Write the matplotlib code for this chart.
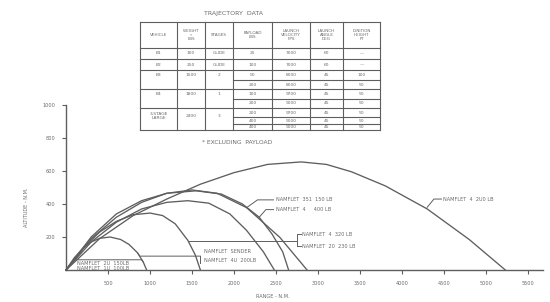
import matplotlib
matplotlib.use("Agg")
import matplotlib.pyplot as plt

# ---------------- data ----------------
x_ticks = [500, 1000, 1500, 2000, 2500, 3000, 3500, 4000, 4500, 5000, 5500]
y_ticks = [200, 400, 600, 800, 1000]

# trajectories: (range n.m., altitude n.m.)
c1_range = [0, 100, 200, 300, 400, 525, 650, 750, 850, 920, 960]
c1_alt = [0, 75, 130, 170, 192, 200, 185, 155, 105, 48, 0]
c2_range = [0, 200, 400, 600, 800, 1000, 1150, 1300, 1450, 1540, 1600]
c2_alt = [0, 130, 230, 295, 335, 345, 330, 280, 180, 90, 0]
c3_range = [0, 300, 600, 900, 1200, 1450, 1700, 1950, 2150, 2350, 2480]
c3_alt = [0, 170, 290, 370, 410, 420, 405, 340, 240, 110, 0]
c4_range = [0, 300, 600, 900, 1200, 1550, 1850, 2100, 2300, 2450, 2580, 2650]
c4_alt = [0, 200, 340, 420, 465, 480, 460, 400, 320, 220, 110, 0]
c5_range = [0, 300, 600, 900, 1200, 1500, 1800, 2150, 2545, 2870]
c5_alt = [0, 190, 320, 410, 465, 485, 465, 378, 198, 0]
c6_range = [0, 400, 800, 1200, 1600, 2000, 2400, 2800, 3100, 3400, 3800, 4300, 4800, 5230]
c6_alt = [0, 190, 330, 430, 520, 590, 640, 655, 640, 595, 510, 370, 185, 0]

# table
tbl_title = "TRAJECTORY  DATA"
tbl_headers = ["VEHICLE", "WEIGHT\n*\nLBS", "STAGES", "PAYLOAD\nLBS",
               "LAUNCH\nVELOCITY\nFPS", "LAUNCH\nANGLE\nDEG", "IGNITION\nHEIGHT\nFT"]
vehicles = ["B1", "B2", "B3", "B4", "3-STAGE\nLARGE"]
weights = ["100", "250", "1500", "1800", "2400"]
stages = ["GLIDE", "GLIDE", "2", "1", "3"]
payloads = [["25"], ["100"], ["50", "200"], ["100", "200"], ["200", "400", "400"]]
velocities = [["7000"], ["7000"], ["8000", "8000"], ["9700", "9000"], ["9700", "9000", "9000"]]
angles = [["60"], ["60"], ["45", "45"], ["45", "45"], ["45", "45", "45"]]
ignitions = [["—"], ["—"], ["100", "50"], ["50", "50"], ["50", "50", "50"]]
footnote = "* EXCLUDING  PAYLOAD"

lbl_a = "NAMFLET  351  150 LB"
lbl_b = "NAMFLET  4     400 LB"
lbl_c = "NAMFLET  4  320 LB"
lbl_d = "NAMFLET  20  230 LB"
lbl_e = "NAMFLET  4  2U0 LB"
lbl_f = "NAMFLET  SENDER"
lbl_g = "NAMFLET  4U  200LB"
lbl_h = "NAMFLET  2U  150LB"
lbl_i = "NAMFLET  1U  100LB"

# ---------------- drawing ----------------
LC = "#5e5e5e"
TC = "#6a6a6a"
FS = 3.6

fig = plt.figure(figsize=(5.5, 3.02), dpi=100)
ax = fig.add_axes([66/550, 32/302, 477/550, 165/302])
ax.set_xlim(0, 477*500/42)
ax.set_ylim(0, 1000)

for xr, ya in [(c1_range, c1_alt), (c2_range, c2_alt), (c3_range, c3_alt),
               (c4_range, c4_alt), (c5_range, c5_alt), (c6_range, c6_alt)]:
    ax.plot(xr, ya, color=LC, lw=0.95, clip_on=False)

for s in ["top", "right"]:
    ax.spines[s].set_visible(False)
for s in ["left", "bottom"]:
    ax.spines[s].set_color(LC)
    ax.spines[s].set_linewidth(1.0)
ax.set_xticks(x_ticks)
ax.set_xticklabels([str(v) for v in x_ticks])
ax.set_yticks(y_ticks)
ax.set_yticklabels([str(v) for v in y_ticks])
ax.tick_params(axis="both", colors=LC, labelcolor=TC, labelsize=FS, length=3, width=0.8, pad=5)

# leaders & labels
def seg(xs, ys):
    ax.plot(xs, ys, color=LC, lw=0.7, clip_on=False)

seg([2150, 2280, 2470], [378, 425, 425])
ax.text(2500, 425, lbl_a, fontsize=FS, color=TC, va="center")
seg([2300, 2380, 2470], [320, 366, 366])
ax.text(2500, 366, lbl_b, fontsize=FS, color=TC, va="center")
seg([1450, 2750], [175, 175])
seg([2800, 2750, 2750, 2800], [216, 216, 144, 144])
ax.text(2810, 216, lbl_c, fontsize=FS, color=TC, va="center")
ax.text(2810, 144, lbl_d, fontsize=FS, color=TC, va="center")
seg([4300, 4380, 4470], [380, 430, 430])
ax.text(4490, 430, lbl_e, fontsize=FS, color=TC, va="center")
seg([850, 880, 1600], [105, 84, 84])
seg([1600, 1600], [84, 40])
ax.text(1640, 112, lbl_f, fontsize=FS, color=TC, va="center")
ax.text(1640, 60, lbl_g, fontsize=FS, color=TC, va="center")
seg([920, 900, 100], [48, 62, 62])
ax.text(130, 42, lbl_h, fontsize=FS, color=TC, va="center")
ax.text(130, 12, lbl_i, fontsize=FS, color=TC, va="center")

# overlay in pixel coordinates
ov = fig.add_axes([0, 0, 1, 1])
ov.set_xlim(0, 550)
ov.set_ylim(302, 0)
ov.axis("off")
ov.patch.set_alpha(0)

ov.text(27, 207, "ALTITUDE - N.M.", rotation=90, fontsize=FS, color=TC, ha="center", va="center")
ov.text(273, 296, "RANGE - N.M.", fontsize=FS, color=TC, ha="center", va="center")

cols = [140, 177, 205, 233, 272, 310, 343, 380]
row_edges = [48, 59, 70, 89, 108, 130]
top, hdr = 22, 48
sub_lines = [80, 99, 117, 124]
lw = 0.8
ov.plot([cols[0], cols[-1]], [top, top], color=LC, lw=lw)
for y in row_edges:
    ov.plot([cols[0], cols[-1]], [y, y], color=LC, lw=lw)
for y in sub_lines:
    ov.plot([cols[3], cols[-1]], [y, y], color=LC, lw=lw)
for x in cols:
    ov.plot([x, x], [top, row_edges[-1]], color=LC, lw=lw)

ov.text(234, 13, tbl_title, fontsize=4.5, color=TC, ha="center", va="center")
ov.text(237, 143, footnote, fontsize=4.3, color=TC, ha="center", va="center")

cx = [(cols[i] + cols[i + 1]) / 2 for i in range(len(cols) - 1)]
for i, h in enumerate(tbl_headers):
    ov.text(cx[i], (top + hdr) / 2, h, fontsize=3.0, color=TC, ha="center", va="center",
            linespacing=1.1)

sub_bounds = [[48, 59], [59, 70], [70, 80, 89], [89, 99, 108], [108, 117, 124, 130]]
for r in range(len(vehicles)):
    b = sub_bounds[r]
    ymid = (b[0] + b[-1]) / 2
    if len(b) > 2:
        ymid = (b[0] + b[1]) / 2 if r < 4 else (b[0] + b[2]) / 2
    for c, v in enumerate([vehicles[r], weights[r], stages[r]]):
        ov.text(cx[c], ymid, v, fontsize=3.2, color=TC, ha="center", va="center", linespacing=1.2)
    for k in range(len(b) - 1):
        yc = (b[k] + b[k + 1]) / 2
        for c, arr in zip([3, 4, 5, 6], [payloads, velocities, angles, ignitions]):
            ov.text(cx[c], yc, arr[r][k], fontsize=3.2, color=TC, ha="center", va="center")

fig.savefig("out.png", dpi=100, facecolor="white")
